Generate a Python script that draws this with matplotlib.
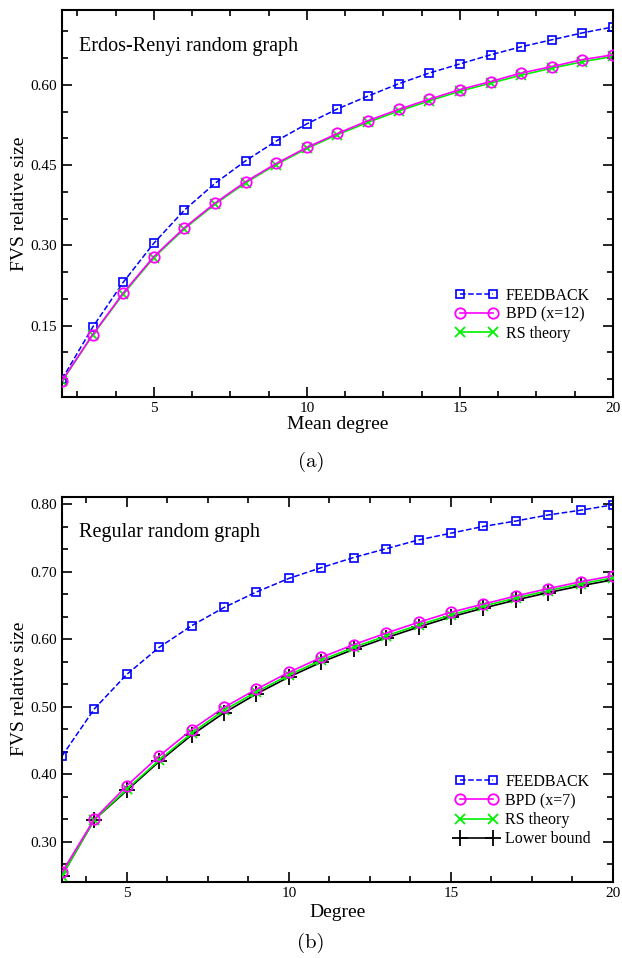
import matplotlib
matplotlib.use('Agg')
import matplotlib.pyplot as plt
from matplotlib.ticker import MultipleLocator, AutoMinorLocator, FormatStrFormatter

# panel (a): Erdos-Renyi random graph
er_degree = list(range(2, 21))
er_feedback = [0.050, 0.147, 0.231, 0.304, 0.366, 0.416, 0.458, 0.495, 0.527,
               0.555, 0.579, 0.602, 0.622, 0.639, 0.656, 0.671, 0.684, 0.697, 0.708]
er_bpd = [0.047, 0.133, 0.211, 0.279, 0.333, 0.379, 0.419, 0.453, 0.483,
          0.509, 0.533, 0.554, 0.573, 0.591, 0.606, 0.622, 0.634, 0.647, 0.656]
er_rs = [0.046, 0.132, 0.209, 0.277, 0.331, 0.377, 0.417, 0.451, 0.481,
         0.507, 0.530, 0.551, 0.570, 0.588, 0.603, 0.618, 0.631, 0.643, 0.653]

# panel (b): regular random graph
rr_degree = list(range(3, 21))
rr_feedback = [0.427, 0.497, 0.548, 0.588, 0.620, 0.647, 0.670, 0.690, 0.706,
               0.721, 0.734, 0.747, 0.757, 0.767, 0.775, 0.784, 0.791, 0.799]
rr_bpd = [0.255, 0.334, 0.383, 0.427, 0.466, 0.499, 0.526, 0.551, 0.573,
          0.592, 0.609, 0.625, 0.640, 0.652, 0.664, 0.675, 0.685, 0.694]
rr_rs = [0.250, 0.333, 0.378, 0.421, 0.461, 0.495, 0.522, 0.547, 0.569,
         0.588, 0.605, 0.621, 0.636, 0.649, 0.661, 0.672, 0.682, 0.691]
rr_lower = [0.250, 0.333, 0.376, 0.419, 0.458, 0.491, 0.519, 0.544, 0.566,
            0.585, 0.602, 0.618, 0.633, 0.646, 0.658, 0.669, 0.679, 0.688]

plt.rcParams['font.family'] = ['Liberation Serif', 'DejaVu Serif']

BLUE = '#0000ff'
MAGENTA = '#ff00ff'
GREEN = '#00f000'


def style_axes(ax):
    ax.tick_params(which='both', direction='in', top=True, right=True,
                   labelsize=11, width=1.2)
    ax.tick_params(which='major', length=7)
    ax.tick_params(which='minor', length=4)
    for sp in ax.spines.values():
        sp.set_linewidth(1.5)
    ax.xaxis.set_major_locator(MultipleLocator(5))
    ax.xaxis.set_minor_locator(MultipleLocator(1.25))
    ax.yaxis.set_major_formatter(FormatStrFormatter('%.2f'))


def add_legend(ax, order, anchor):
    h, l = ax.get_legend_handles_labels()
    ax.legend([h[i] for i in order], [l[i] for i in order], loc='upper left',
              bbox_to_anchor=anchor, borderaxespad=0, borderpad=0,
              frameon=False, fontsize=11.5, numpoints=2,
              handlelength=2.66, handletextpad=0.5, labelspacing=0.2)


fig = plt.figure(figsize=(6.22, 9.58), dpi=100)
ax1 = fig.add_axes([0.0997, 0.5858, 0.8858, 0.4039])
ax2 = fig.add_axes([0.0997, 0.0797, 0.8858, 0.4018])

# (a)
ax1.plot(er_degree, er_feedback, color=BLUE, ls='--', lw=1.1, marker='s', ms=6,
         mfc='none', mew=1.2, label='FEEDBACK')
ax1.plot(er_degree, er_rs, color=GREEN, ls='-', lw=1.2, marker='x', ms=6.5,
         mew=1.3, label='RS theory', zorder=2)
ax1.plot(er_degree, er_bpd, color=MAGENTA, ls='-', lw=1.2, marker='o', ms=7.5,
         mfc='none', mew=1.3, label='BPD (x=12)', zorder=3)
ax1.set_xlim(2, 20)
ax1.set_ylim(0.017, 0.74)
ax1.yaxis.set_major_locator(MultipleLocator(0.15))
ax1.yaxis.set_minor_locator(MultipleLocator(0.05))
style_axes(ax1)
ax1.set_xlabel('Mean degree', fontsize=14, labelpad=1)
ax1.set_ylabel('FVS relative size', fontsize=14, labelpad=2)
ax1.text(0.03, 0.905, 'Erdos-Renyi random graph', transform=ax1.transAxes,
         fontsize=14.5, va='center')
add_legend(ax1, [0, 2, 1], (0.714, 0.282))
fig.text(0.5, 0.518, '(a)', ha='center', va='center', fontsize=15,
         family='cmr10')

# (b)
ax2.plot(rr_degree, rr_feedback, color=BLUE, ls='--', lw=1.1, marker='s', ms=6,
         mfc='none', mew=1.2, label='FEEDBACK')
ax2.plot(rr_degree, rr_lower, color='black', ls='-', lw=1.2, marker='+', ms=11,
         mew=1.3, label='Lower bound', zorder=2)
ax2.plot(rr_degree, rr_rs, color=GREEN, ls='-', lw=1.2, marker='x', ms=6.5,
         mew=1.3, label='RS theory', zorder=3)
ax2.plot(rr_degree, rr_bpd, color=MAGENTA, ls='-', lw=1.2, marker='o', ms=7.5,
         mfc='none', mew=1.3, label='BPD (x=7)', zorder=4)
ax2.set_xlim(3, 20)
ax2.set_ylim(0.241, 0.811)
ax2.yaxis.set_major_locator(MultipleLocator(0.1))
ax2.yaxis.set_minor_locator(AutoMinorLocator(3))
style_axes(ax2)
ax2.set_xlabel('Degree', fontsize=14, labelpad=3)
ax2.set_ylabel('FVS relative size', fontsize=14, labelpad=2)
ax2.text(0.03, 0.906, 'Regular random graph', transform=ax2.transAxes,
         fontsize=14.5, va='center')
add_legend(ax2, [0, 3, 2, 1], (0.713, 0.28))
fig.text(0.5, 0.0157, '(b)', ha='center', va='center', fontsize=15,
         family='cmr10')

fig.savefig('out.png', dpi=100)
